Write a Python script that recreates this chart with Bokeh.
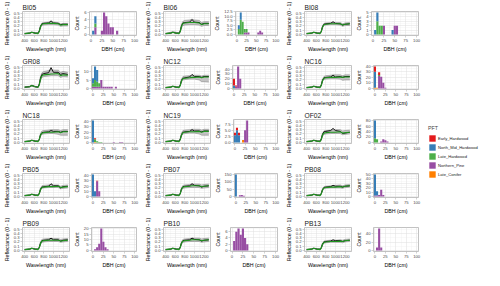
from bokeh.plotting import figure
from bokeh.layouts import row, column
from bokeh.models import (FixedTicker, Legend, LegendItem, ColumnDataSource,
                          Range1d, PrintfTickFormatter)
from bokeh.embed import file_html
from bokeh.resources import INLINE

# ---------------- data ----------------
SITES = ["BI05", "BI06", "BI08", "GR08", "NC12", "NC16", "NC18", "NC19",
         "OF02", "PB05", "PB07", "PB08", "PB09", "PB10", "PB13"]

WAVELENGTH = [400, 500, 550, 620, 680, 705, 730, 760, 800, 900, 950, 1000, 1100, 1150, 1200, 1300]

GREEN = {
    "BI05": [0.02, 0.03, 0.05, 0.03, 0.02, 0.07, 0.18, 0.24, 0.25, 0.26, 0.26, 0.26, 0.25, 0.22, 0.23, 0.23],
    "BI06": [0.02, 0.03, 0.05, 0.03, 0.02, 0.07, 0.19, 0.26, 0.27, 0.28, 0.28, 0.28, 0.27, 0.23, 0.25, 0.25],
    "BI08": [0.02, 0.03, 0.05, 0.03, 0.02, 0.07, 0.17, 0.23, 0.24, 0.25, 0.25, 0.25, 0.25, 0.22, 0.24, 0.25],
    "GR08": [0.03, 0.04, 0.07, 0.04, 0.03, 0.09, 0.22, 0.30, 0.32, 0.33, 0.34, 0.34, 0.35, 0.30, 0.32, 0.31],
    "NC12": [0.02, 0.03, 0.05, 0.03, 0.02, 0.07, 0.18, 0.23, 0.24, 0.25, 0.26, 0.26, 0.27, 0.25, 0.27, 0.27],
    "NC16": [0.02, 0.03, 0.05, 0.03, 0.02, 0.07, 0.18, 0.24, 0.25, 0.26, 0.26, 0.26, 0.27, 0.26, 0.27, 0.27],
    "NC18": [0.02, 0.03, 0.05, 0.03, 0.02, 0.07, 0.17, 0.22, 0.23, 0.24, 0.24, 0.24, 0.25, 0.23, 0.25, 0.25],
    "NC19": [0.02, 0.03, 0.05, 0.03, 0.02, 0.07, 0.17, 0.23, 0.24, 0.25, 0.25, 0.25, 0.26, 0.24, 0.26, 0.26],
    "OF02": [0.02, 0.03, 0.05, 0.03, 0.02, 0.07, 0.17, 0.22, 0.23, 0.24, 0.24, 0.24, 0.25, 0.22, 0.23, 0.24],
    "PB05": [0.02, 0.03, 0.05, 0.03, 0.02, 0.07, 0.16, 0.21, 0.22, 0.23, 0.23, 0.23, 0.24, 0.21, 0.22, 0.23],
    "PB07": [0.02, 0.03, 0.05, 0.03, 0.02, 0.07, 0.17, 0.22, 0.23, 0.24, 0.25, 0.25, 0.25, 0.23, 0.24, 0.25],
    "PB08": [0.02, 0.03, 0.05, 0.03, 0.02, 0.06, 0.15, 0.20, 0.21, 0.22, 0.22, 0.22, 0.23, 0.22, 0.24, 0.25],
    "PB09": [0.02, 0.03, 0.05, 0.03, 0.02, 0.07, 0.16, 0.22, 0.23, 0.24, 0.24, 0.24, 0.24, 0.22, 0.23, 0.24],
    "PB10": [0.02, 0.03, 0.05, 0.03, 0.02, 0.07, 0.17, 0.22, 0.23, 0.24, 0.25, 0.25, 0.25, 0.23, 0.24, 0.25],
    "PB13": [0.02, 0.03, 0.05, 0.03, 0.02, 0.06, 0.14, 0.19, 0.20, 0.21, 0.21, 0.21, 0.22, 0.21, 0.23, 0.24],
}

BLACK = {
    "BI05": [0.02, 0.03, 0.05, 0.03, 0.03, 0.08, 0.19, 0.25, 0.26, 0.27, 0.32, 0.27, 0.26, 0.23, 0.24, 0.24],
    "BI06": [0.02, 0.03, 0.05, 0.03, 0.03, 0.08, 0.20, 0.27, 0.28, 0.29, 0.35, 0.29, 0.28, 0.24, 0.26, 0.26],
    "BI08": [0.02, 0.03, 0.05, 0.03, 0.03, 0.07, 0.18, 0.24, 0.25, 0.26, 0.30, 0.26, 0.25, 0.22, 0.24, 0.25],
    "GR08": [0.03, 0.04, 0.07, 0.04, 0.03, 0.10, 0.24, 0.33, 0.35, 0.37, 0.49, 0.38, 0.38, 0.33, 0.35, 0.33],
    "NC12": [0.02, 0.03, 0.05, 0.03, 0.03, 0.08, 0.19, 0.24, 0.25, 0.27, 0.33, 0.28, 0.28, 0.26, 0.28, 0.28],
    "NC16": [0.02, 0.03, 0.05, 0.03, 0.03, 0.08, 0.19, 0.25, 0.26, 0.27, 0.31, 0.27, 0.28, 0.26, 0.28, 0.28],
    "NC18": [0.02, 0.03, 0.05, 0.03, 0.03, 0.07, 0.18, 0.23, 0.24, 0.25, 0.28, 0.26, 0.26, 0.24, 0.26, 0.26],
    "NC19": [0.02, 0.03, 0.05, 0.03, 0.03, 0.08, 0.18, 0.24, 0.25, 0.26, 0.30, 0.27, 0.27, 0.25, 0.27, 0.27],
    "OF02": [0.02, 0.03, 0.05, 0.03, 0.03, 0.08, 0.19, 0.25, 0.26, 0.28, 0.33, 0.28, 0.26, 0.21, 0.22, 0.24],
    "PB05": [0.02, 0.03, 0.05, 0.03, 0.03, 0.07, 0.17, 0.22, 0.23, 0.24, 0.30, 0.25, 0.25, 0.20, 0.23, 0.24],
    "PB07": [0.02, 0.03, 0.05, 0.03, 0.03, 0.07, 0.18, 0.23, 0.24, 0.25, 0.30, 0.26, 0.25, 0.22, 0.24, 0.25],
    "PB08": [0.02, 0.03, 0.05, 0.03, 0.03, 0.07, 0.16, 0.21, 0.22, 0.23, 0.26, 0.24, 0.24, 0.22, 0.24, 0.25],
    "PB09": [0.02, 0.03, 0.05, 0.03, 0.03, 0.07, 0.17, 0.23, 0.24, 0.25, 0.29, 0.25, 0.25, 0.22, 0.24, 0.25],
    "PB10": [0.02, 0.03, 0.05, 0.03, 0.03, 0.08, 0.18, 0.23, 0.24, 0.25, 0.29, 0.26, 0.25, 0.22, 0.24, 0.25],
    "PB13": [0.02, 0.03, 0.05, 0.03, 0.03, 0.06, 0.15, 0.20, 0.21, 0.22, 0.25, 0.23, 0.23, 0.21, 0.23, 0.24],
}

LOW = {
    "BI05": [0.01, 0.02, 0.04, 0.02, 0.02, 0.06, 0.15, 0.21, 0.22, 0.23, 0.23, 0.23, 0.22, 0.19, 0.20, 0.20],
    "BI06": [0.01, 0.02, 0.04, 0.02, 0.02, 0.05, 0.15, 0.21, 0.22, 0.23, 0.23, 0.23, 0.22, 0.19, 0.21, 0.21],
    "BI08": [0.01, 0.02, 0.04, 0.02, 0.02, 0.05, 0.15, 0.21, 0.22, 0.23, 0.23, 0.23, 0.22, 0.19, 0.21, 0.21],
    "GR08": [0.02, 0.03, 0.05, 0.03, 0.02, 0.07, 0.18, 0.26, 0.28, 0.29, 0.30, 0.30, 0.30, 0.26, 0.28, 0.27],
    "NC12": [0.01, 0.02, 0.04, 0.02, 0.02, 0.06, 0.15, 0.20, 0.21, 0.22, 0.22, 0.22, 0.20, 0.16, 0.16, 0.15],
    "NC16": [0.01, 0.02, 0.04, 0.02, 0.02, 0.06, 0.16, 0.21, 0.22, 0.23, 0.23, 0.23, 0.22, 0.19, 0.20, 0.20],
    "NC18": [0.01, 0.02, 0.04, 0.02, 0.02, 0.05, 0.14, 0.19, 0.20, 0.21, 0.21, 0.21, 0.19, 0.17, 0.17, 0.17],
    "NC19": [0.01, 0.02, 0.04, 0.02, 0.02, 0.05, 0.15, 0.20, 0.21, 0.22, 0.22, 0.22, 0.20, 0.17, 0.17, 0.17],
    "OF02": [0.01, 0.02, 0.04, 0.02, 0.02, 0.05, 0.14, 0.19, 0.20, 0.21, 0.21, 0.21, 0.21, 0.18, 0.19, 0.20],
    "PB05": [0.01, 0.02, 0.04, 0.02, 0.02, 0.05, 0.14, 0.19, 0.20, 0.21, 0.21, 0.21, 0.21, 0.18, 0.19, 0.20],
    "PB07": [0.01, 0.02, 0.04, 0.02, 0.02, 0.05, 0.14, 0.19, 0.20, 0.21, 0.21, 0.21, 0.21, 0.19, 0.20, 0.21],
    "PB08": [0.01, 0.02, 0.04, 0.02, 0.02, 0.05, 0.13, 0.18, 0.19, 0.20, 0.20, 0.20, 0.20, 0.19, 0.21, 0.22],
    "PB09": [0.01, 0.02, 0.04, 0.02, 0.02, 0.05, 0.14, 0.19, 0.20, 0.21, 0.21, 0.21, 0.21, 0.19, 0.20, 0.21],
    "PB10": [0.01, 0.02, 0.04, 0.02, 0.02, 0.05, 0.14, 0.19, 0.20, 0.21, 0.21, 0.21, 0.21, 0.19, 0.20, 0.21],
    "PB13": [0.01, 0.02, 0.04, 0.02, 0.02, 0.04, 0.12, 0.17, 0.18, 0.19, 0.19, 0.19, 0.19, 0.18, 0.20, 0.21],
}

HIGH = {
    "BI05": [0.03, 0.04, 0.06, 0.04, 0.04, 0.10, 0.21, 0.27, 0.28, 0.29, 0.30, 0.29, 0.28, 0.25, 0.26, 0.26],
    "BI06": [0.03, 0.05, 0.07, 0.05, 0.04, 0.11, 0.24, 0.31, 0.33, 0.34, 0.36, 0.34, 0.33, 0.28, 0.30, 0.30],
    "BI08": [0.03, 0.04, 0.06, 0.04, 0.04, 0.09, 0.20, 0.26, 0.27, 0.28, 0.28, 0.28, 0.28, 0.25, 0.27, 0.28],
    "GR08": [0.04, 0.05, 0.08, 0.05, 0.04, 0.12, 0.28, 0.37, 0.40, 0.42, 0.44, 0.43, 0.43, 0.38, 0.40, 0.38],
    "NC12": [0.03, 0.04, 0.06, 0.04, 0.04, 0.10, 0.22, 0.28, 0.29, 0.30, 0.31, 0.31, 0.31, 0.29, 0.31, 0.31],
    "NC16": [0.03, 0.04, 0.06, 0.04, 0.04, 0.10, 0.22, 0.28, 0.30, 0.31, 0.32, 0.32, 0.32, 0.30, 0.32, 0.32],
    "NC18": [0.03, 0.04, 0.06, 0.04, 0.04, 0.09, 0.21, 0.27, 0.28, 0.29, 0.30, 0.30, 0.30, 0.28, 0.30, 0.30],
    "NC19": [0.03, 0.04, 0.06, 0.04, 0.04, 0.10, 0.22, 0.28, 0.29, 0.30, 0.31, 0.31, 0.31, 0.29, 0.31, 0.31],
    "OF02": [0.03, 0.04, 0.06, 0.04, 0.04, 0.10, 0.21, 0.27, 0.28, 0.29, 0.30, 0.30, 0.30, 0.27, 0.28, 0.29],
    "PB05": [0.03, 0.04, 0.06, 0.04, 0.04, 0.09, 0.20, 0.25, 0.26, 0.27, 0.28, 0.27, 0.27, 0.24, 0.26, 0.27],
    "PB07": [0.03, 0.04, 0.06, 0.04, 0.04, 0.09, 0.20, 0.26, 0.27, 0.28, 0.29, 0.29, 0.29, 0.27, 0.28, 0.29],
    "PB08": [0.03, 0.04, 0.06, 0.04, 0.04, 0.08, 0.18, 0.23, 0.24, 0.25, 0.26, 0.26, 0.27, 0.25, 0.27, 0.28],
    "PB09": [0.03, 0.04, 0.06, 0.04, 0.04, 0.09, 0.20, 0.26, 0.27, 0.28, 0.28, 0.28, 0.28, 0.26, 0.27, 0.28],
    "PB10": [0.03, 0.04, 0.06, 0.04, 0.04, 0.09, 0.20, 0.26, 0.27, 0.28, 0.29, 0.29, 0.29, 0.27, 0.28, 0.29],
    "PB13": [0.03, 0.04, 0.06, 0.04, 0.04, 0.08, 0.17, 0.22, 0.23, 0.24, 0.24, 0.24, 0.25, 0.24, 0.26, 0.27],
}

REFL_X_TICKS = [400, 600, 800, 1000, 1200]
REFL_Y_TICKS = [0.0, 0.1, 0.2, 0.3, 0.4, 0.5]
DBH_TICKS = [0, 25, 50, 75, 100]

PFT = ["Early_Hardwood", "North_Mid_Hardwood", "Late_Hardwood", "Northern_Pine", "Late_Conifer"]
PFT_COLORS = ["#E41A1C", "#377EB8", "#4DAF4A", "#984EA3", "#FF7F00"]

DBH_BINS = {
    "BI05": [5, 10, 25, 30, 35, 40, 45, 50, 60],
    "BI06": [5, 10, 15, 20, 25, 30, 55, 60, 65],
    "BI08": [5, 10, 15, 20, 25, 45, 50, 55],
    "GR08": [0, 5, 10, 15, 20, 25, 30, 35, 40, 45, 55],
    "NC12": [0, 5, 10, 15],
    "NC16": [0, 5, 10, 15, 20, 25],
    "NC18": [0, 5, 10, 15, 20, 50, 65, 70],
    "NC19": [0, 5, 10, 20, 25, 30],
    "OF02": [0, 5, 15, 20, 25, 30],
    "PB05": [0, 5, 10, 15],
    "PB07": [0, 10, 15, 20],
    "PB08": [0, 5, 10, 15, 20],
    "PB09": [5, 10, 15, 20, 25, 30, 35],
    "PB10": [5, 10, 15, 20, 25, 30, 35],
    "PB13": [5, 10, 15],
}

COUNTS = {
    "BI05": {"North_Mid_Hardwood": [1, 2, 0, 0, 0, 0, 0, 0, 0],
             "Late_Hardwood":      [0, 1, 0, 0, 0, 0, 0, 0, 0],
             "Northern_Pine":      [0, 2, 1, 6, 5, 3, 2, 2, 1]},
    "BI06": {"North_Mid_Hardwood": [2, 4, 0, 0, 0, 0, 0, 0, 0],
             "Late_Hardwood":      [3, 8, 7, 2, 2, 0, 0, 0, 0],
             "Northern_Pine":      [0, 0, 0, 1, 1, 1, 1, 2, 1]},
    "BI08": {"North_Mid_Hardwood": [1, 2, 0, 0, 0, 1, 0, 0],
             "Late_Hardwood":      [0, 3, 2, 2, 0, 0, 0, 0],
             "Northern_Pine":      [0, 0, 0, 0, 2, 0, 2, 2]},
    "GR08": {"North_Mid_Hardwood": [3, 8, 7, 0, 0, 0, 0, 0, 0, 0, 0],
             "Late_Hardwood":      [2, 4, 3, 2, 0, 0, 0, 0, 0, 0, 0],
             "Northern_Pine":      [1, 1, 1, 1, 5, 1, 1, 1, 1, 1, 1]},
    "NC12": {"Early_Hardwood":     [14, 2, 0, 0],
             "North_Mid_Hardwood": [5, 0, 0, 0],
             "Late_Hardwood":      [1, 0, 0, 0],
             "Northern_Pine":      [0, 4, 45, 20]},
    "NC16": {"Early_Hardwood":     [9, 0, 5, 0, 0, 0],
             "North_Mid_Hardwood": [29, 0, 0, 0, 0, 0],
             "Late_Hardwood":      [0, 0, 2, 0, 0, 0],
             "Northern_Pine":      [0, 0, 22, 21, 10, 1],
             "Late_Conifer":       [1, 1, 0, 0, 0, 0]},
    "NC18": {"Early_Hardwood":     [0, 2, 0, 0, 0, 0, 0, 0],
             "North_Mid_Hardwood": [42, 0, 0, 0, 0, 0, 0, 0],
             "Late_Hardwood":      [0, 5, 2, 1, 1, 0, 0, 0],
             "Northern_Pine":      [0, 0, 0, 0, 0, 1, 1, 1],
             "Late_Conifer":       [0, 1, 0, 0, 0, 0, 0, 0]},
    "NC19": {"Early_Hardwood":     [1, 1, 1, 0, 0, 0],
             "North_Mid_Hardwood": [3, 5, 3, 0, 0, 0],
             "Northern_Pine":      [0, 0, 0, 0, 5, 9],
             "Late_Conifer":       [0, 0, 0, 1, 0, 0]},
    "OF02": {"North_Mid_Hardwood": [65, 0, 0, 0, 0, 0],
             "Late_Hardwood":      [15, 12, 0, 0, 0, 0],
             "Northern_Pine":      [0, 0, 3, 12, 8, 3]},
    "PB05": {"Early_Hardwood":     [0, 0, 1, 0],
             "North_Mid_Hardwood": [42, 10, 0, 0],
             "Northern_Pine":      [0, 0, 29, 10]},
    "PB07": {"North_Mid_Hardwood": [150, 0, 0, 0],
             "Northern_Pine":      [0, 8, 10, 4]},
    "PB08": {"North_Mid_Hardwood": [48, 10, 0, 0, 0],
             "Northern_Pine":      [2, 2, 3, 15, 3]},
    "PB09": {"Northern_Pine":      [1, 3, 6, 20, 8, 3, 1]},
    "PB10": {"Northern_Pine":      [3, 6, 7, 5, 7, 4, 2]},
    "PB13": {"Northern_Pine":      [7, 52, 7]},
}

COUNT_TICKS = {
    "BI05": [0, 2, 4, 6],
    "BI06": [0, 2.5, 5, 7.5, 10, 12.5],
    "BI08": [0, 1, 2, 3, 4, 5],
    "GR08": [0, 5, 10],
    "NC12": [0, 10, 20, 30, 40],
    "NC16": [0, 10, 20, 30, 40],
    "NC18": [0, 10, 20, 30, 40],
    "NC19": [0, 2.5, 5, 7.5],
    "OF02": [0, 20, 40, 60, 80],
    "PB05": [0, 10, 20, 30, 40],
    "PB07": [0, 50, 100, 150],
    "PB08": [0, 10, 20, 30, 40, 50],
    "PB09": [0, 5, 10, 15, 20],
    "PB10": [0, 2, 4, 6],
    "PB13": [0, 20, 40],
}

# ---------------- styling helpers ----------------
FONT = "Liberation Sans"
ROW_H = 54
TOP, BOTTOM = 11, 14


def minor_between(ticks, lo, hi):
    step = ticks[1] - ticks[0]
    out = [t + step / 2 for t in ticks]
    out.append(ticks[0] - step / 2)
    return [m for m in out if lo < m < hi]


def style(p, xt, yt, xr, yr, xlabel, ylabel, yfmt):
    p.outline_line_color = "#B3B3B3"
    p.outline_line_width = 0.8
    p.background_fill_color = "white"
    p.border_fill_color = "white"
    p.xaxis.ticker = FixedTicker(ticks=xt, minor_ticks=minor_between(xt, xr[0], xr[1]))
    p.yaxis.ticker = FixedTicker(ticks=yt, minor_ticks=minor_between(yt, yr[0], yr[1]))
    p.yaxis.formatter = PrintfTickFormatter(format=yfmt)
    p.xaxis.axis_label = xlabel
    p.yaxis.axis_label = ylabel
    for ax in p.axis:
        ax.axis_line_color = None
        ax.major_tick_line_color = "#B3B3B3"
        ax.major_tick_line_width = 0.6
        ax.major_tick_out = 2
        ax.major_tick_in = 0
        ax.minor_tick_out = 0
        ax.minor_tick_in = 0
        ax.major_label_text_font = FONT
        ax.major_label_text_font_size = "4.2px"
        ax.major_label_text_color = "#4D4D4D"
        ax.major_label_standoff = 1
        ax.axis_label_text_font = FONT
        ax.axis_label_text_font_size = "5.3px"
        ax.axis_label_text_font_style = "normal"
        ax.axis_label_text_color = "#000000"
        ax.axis_label_standoff = 1
    for g in p.grid:
        g.grid_line_color = "#DEDEDE"
        g.grid_line_width = 0.5
        g.minor_grid_line_color = "#EBEBEB"
        g.minor_grid_line_width = 0.3


def refl_fig(site):
    xr, yr = (355, 1335), (-0.025, 0.54)
    p = figure(width=70, height=ROW_H, output_backend="svg", toolbar_location=None,
               x_range=Range1d(*xr), y_range=Range1d(*yr), title=site,
               min_border_left=19, min_border_right=1,
               min_border_top=TOP, min_border_bottom=BOTTOM)
    p.title.text_font = FONT
    p.title.text_font_size = "6.7px"
    p.title.text_font_style = "normal"
    p.title.text_color = "#1A1A1A"
    p.title.align = "left"
    if "standoff" in p.title.properties():
        p.title.standoff = 1
    style(p, REFL_X_TICKS, REFL_Y_TICKS, xr, yr,
          "Wavelength (nm)", "Reflectance (0 - 1)", "%.1f")
    p.varea(x=WAVELENGTH, y1=LOW[site], y2=HIGH[site], fill_color="#BDBDBD", fill_alpha=0.9)
    p.line(WAVELENGTH, LOW[site], line_color="#8C8C8C", line_width=0.6)
    p.line(WAVELENGTH, HIGH[site], line_color="#8C8C8C", line_width=0.6)
    p.line(WAVELENGTH, BLACK[site], line_color="#000000", line_width=0.9)
    p.line(WAVELENGTH, GREEN[site], line_color="#1E961E", line_width=1.1)
    return p


def hist_fig(site):
    bins = DBH_BINS[site]
    data = {"dbh": bins}
    for pft in PFT:
        data[pft] = COUNTS[site].get(pft, [0] * len(bins))
    totals = [sum(data[pft][i] for pft in PFT) for i in range(len(bins))]
    ymax = max(totals)
    xr, yr = (-3.5, 104.5), (-0.05 * ymax, 1.05 * ymax)
    p = figure(width=71, height=ROW_H, output_backend="svg", toolbar_location=None,
               x_range=Range1d(*xr), y_range=Range1d(*yr),
               min_border_left=19, min_border_right=5,
               min_border_top=TOP, min_border_bottom=BOTTOM)
    ticks = COUNT_TICKS[site]
    fmt = "%d" if all(float(t).is_integer() for t in ticks) else "%.1f"
    style(p, DBH_TICKS, ticks, xr, yr, "DBH (cm)", "Count", fmt)
    order = PFT[::-1]  # bottom -> top
    colors = PFT_COLORS[::-1]
    p.vbar_stack(order, x="dbh", width=5, fill_color=colors, line_color=None,
                 source=ColumnDataSource(data))
    return p


rows = []
for r in range(5):
    figs = []
    for c in range(3):
        s = SITES[r * 3 + c]
        figs.append(refl_fig(s))
        figs.append(hist_fig(s))
    rows.append(row(*figs, spacing=0))
grid = column(*rows, spacing=0)

# legend panel
lf = figure(width=61, height=ROW_H * 5, output_backend="svg", toolbar_location=None,
            x_axis_location=None, y_axis_location=None,
            x_range=Range1d(0, 1), y_range=Range1d(0, 1),
            min_border_left=0, min_border_right=0, min_border_top=0, min_border_bottom=0)
lf.outline_line_color = None
lf.grid.visible = False
items = []
for name, col in zip(PFT, PFT_COLORS):
    # placeholder point far outside the visible range: only its legend key is seen
    rr = lf.vbar(x=[-10], bottom=[-10], top=[-9], width=1, fill_color=col, line_color=None)
    items.append(LegendItem(label=name, renderers=[rr]))
leg = Legend(items=items, location=(5, 92), title="PFT",
             title_text_font=FONT, title_text_font_size="5.3px", title_text_font_style="normal",
             title_standoff=3,
             label_text_font=FONT, label_text_font_size="4.1px", label_text_color="#1A1A1A",
             glyph_width=8, glyph_height=8, label_height=8, label_standoff=2,
             spacing=1, padding=0, margin=0, border_line_color=None,
             background_fill_alpha=0)
lf.add_layout(leg, "center")

layout = row(grid, lf, spacing=0)

open("out.html", "w").write(file_html(layout, INLINE))
